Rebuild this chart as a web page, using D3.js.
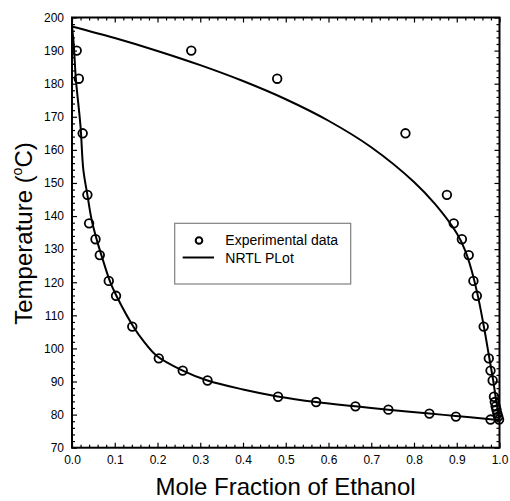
<!DOCTYPE html>
<html><head><meta charset="utf-8">
<script src="https://cdn.jsdelivr.net/npm/d3@7/dist/d3.min.js"></script>
<style>body{margin:0;background:#fff} svg text{font-family:Arial,"Liberation Sans",sans-serif;fill:#000}</style>
</head><body><svg id="c" width="510" height="501"></svg>
<script>
// Experimental data: liquid (bubble) side
const liquidX = [0.011,0.016,0.025,0.036,0.040,0.055,0.065,0.086,0.103,0.141,0.203,0.259,0.317,0.482,0.571,0.663,0.740,0.836,0.898,0.979];
const liquidT = [190.0,181.5,165.0,146.4,137.8,133.0,128.2,120.4,115.9,106.6,97.0,93.3,90.3,85.4,83.8,82.5,81.5,80.3,79.4,78.5];
// Experimental data: vapour (dew) side
const vaporX = [0.279,0.480,0.780,0.877,0.893,0.912,0.928,0.939,0.947,0.963,0.975,0.979,0.984,0.987,0.989,0.991,0.993,0.995,0.997,0.999];
const vaporT = [190.0,181.5,165.0,146.4,137.8,133.0,128.2,120.4,115.9,106.6,97.0,93.3,90.3,85.4,83.8,82.5,81.5,80.3,79.4,78.5];
// NRTL model curves
const bubbleX = [0.000,0.004,0.009,0.020,0.0265,0.036,0.046,0.058,0.070,0.089,0.105,0.144,0.167,0.198,0.259,0.317,0.400,0.481,0.571,0.663,0.740,0.836,0.898,0.979,1.000];
const bubbleT = [197.3,192.0,181.5,167.0,154.0,146.4,138.8,132.8,127.7,120.2,115.6,106.5,102.3,97.8,93.3,90.3,87.6,85.5,83.8,82.5,81.5,80.3,79.6,78.6,78.3];
const dewX = [0.00,0.10,0.20,0.30,0.40,0.50,0.60,0.70,0.80,0.85,0.90,0.92,0.935,0.95,0.965,0.975,0.985,0.992,1.000];
const dewT = [197.3,193.8,189.9,185.6,180.8,175.3,168.8,160.8,150.3,143.5,134.8,129.5,123.5,115.5,105.5,98.0,90.5,84.5,78.3];
// Ticks
const xTicks = [0,0.1,0.2,0.3,0.4,0.5,0.6,0.7,0.8,0.9,1.0];
const xTickLabels = ["0.0","0.1","0.2","0.3","0.4","0.5","0.6","0.7","0.8","0.9","1.0"];
const yTicks = [70,80,90,100,110,120,130,140,150,160,170,180,190,200];
const legendLabels = ["Experimental data","NRTL PLot"];

const svg = d3.select("#c");
const L=72, R=499.5, T=17.5, B=447.7;
const x = d3.scaleLinear().domain([0,1]).range([L,R]);
const y = d3.scaleLinear().domain([70,200]).range([B,T]);

const xMinor = d3.range(0,51).map(i=>i*0.02).filter(v=>Math.abs(v*10-Math.round(v*10))>1e-6);
const yMinor = d3.range(70,201,2).filter(v=>v%10!==0);

function styleAxis(g){ g.select(".domain").remove(); g.selectAll("line").attr("stroke","#000").attr("stroke-width",1.2); }

// bottom
svg.append("g").attr("transform",`translate(0,${B})`)
  .call(d3.axisBottom(x).tickValues(xTicks).tickSizeInner(-5).tickSizeOuter(0).tickPadding(8).tickFormat((d,i)=>xTickLabels[i]))
  .call(styleAxis).call(g=>g.selectAll("text").attr("font-size",12).attr("font-family","Arial, Liberation Sans, sans-serif"));
svg.append("g").attr("transform",`translate(0,${B})`)
  .call(d3.axisBottom(x).tickValues(xMinor).tickSizeInner(-3).tickSizeOuter(0).tickFormat(""))
  .call(styleAxis);
// top
svg.append("g").attr("transform",`translate(0,${T})`)
  .call(d3.axisTop(x).tickValues(xTicks).tickSizeInner(-5).tickSizeOuter(0).tickFormat(""))
  .call(styleAxis);
svg.append("g").attr("transform",`translate(0,${T})`)
  .call(d3.axisTop(x).tickValues(xMinor).tickSizeInner(-3).tickSizeOuter(0).tickFormat(""))
  .call(styleAxis);
// left
svg.append("g").attr("transform",`translate(${L},0)`)
  .call(d3.axisLeft(y).tickValues(yTicks).tickSizeInner(-5).tickSizeOuter(0).tickPadding(8).tickFormat(d3.format("d")))
  .call(styleAxis).call(g=>g.selectAll("text").attr("font-size",12).attr("font-family","Arial, Liberation Sans, sans-serif"));
svg.append("g").attr("transform",`translate(${L},0)`)
  .call(d3.axisLeft(y).tickValues(yMinor).tickSizeInner(-3).tickSizeOuter(0).tickFormat(""))
  .call(styleAxis);
// right
svg.append("g").attr("transform",`translate(${R},0)`)
  .call(d3.axisRight(y).tickValues(yTicks).tickSizeInner(-5).tickSizeOuter(0).tickFormat(""))
  .call(styleAxis);
svg.append("g").attr("transform",`translate(${R},0)`)
  .call(d3.axisRight(y).tickValues(yMinor).tickSizeInner(-3).tickSizeOuter(0).tickFormat(""))
  .call(styleAxis);

// frame
svg.append("rect").attr("x",L).attr("y",T).attr("width",R-L).attr("height",B-T)
  .attr("fill","none").attr("stroke","#000").attr("stroke-width",2);

// curves
const line = d3.line().x(d=>x(d[0])).y(d=>y(d[1])).curve(d3.curveCatmullRom.alpha(0.5));
svg.append("path").datum(bubbleX.map((v,i)=>[v,bubbleT[i]])).attr("d",line)
  .attr("fill","none").attr("stroke","#000").attr("stroke-width",2);
svg.append("path").datum(dewX.map((v,i)=>[v,dewT[i]])).attr("d",line)
  .attr("fill","none").attr("stroke","#000").attr("stroke-width",2);

// points
const pts = liquidX.map((v,i)=>[v,liquidT[i]]).concat(vaporX.map((v,i)=>[v,vaporT[i]]));
svg.append("g").selectAll("circle").data(pts).join("circle")
  .attr("cx",d=>x(d[0])).attr("cy",d=>y(d[1])).attr("r",4.3)
  .attr("fill","none").attr("stroke","#000").attr("stroke-width",1.8);

// legend
const lg = svg.append("g");
lg.append("rect").attr("x",174.7).attr("y",223.3).attr("width",176).attr("height",60.7)
  .attr("fill","#fff").attr("stroke","#808080").attr("stroke-width",1.2);
lg.append("circle").attr("cx",199).attr("cy",240.5).attr("r",3.3).attr("fill","none").attr("stroke","#000").attr("stroke-width",2);
lg.append("line").attr("x1",182.7).attr("x2",214).attr("y1",257.5).attr("y2",257.5).attr("stroke","#000").attr("stroke-width",2);
lg.append("text").attr("x",225.3).attr("y",244.7).attr("font-size",14).text(legendLabels[0]);
lg.append("text").attr("x",225.3).attr("y",263.3).attr("font-size",14).text(legendLabels[1]);

// axis titles
svg.append("text").attr("x",285.5).attr("y",495).attr("text-anchor","middle").attr("font-size",24).text("Mole Fraction of Ethanol");
const yt = svg.append("text").attr("transform","translate(32,233.5) rotate(-90)").attr("text-anchor","middle").attr("font-size",24);
yt.append("tspan").text("Temperature (");
yt.append("tspan").attr("font-size",14).attr("dy",-10).text("o");
yt.append("tspan").attr("dy",10).text("C)");
</script></body></html>
